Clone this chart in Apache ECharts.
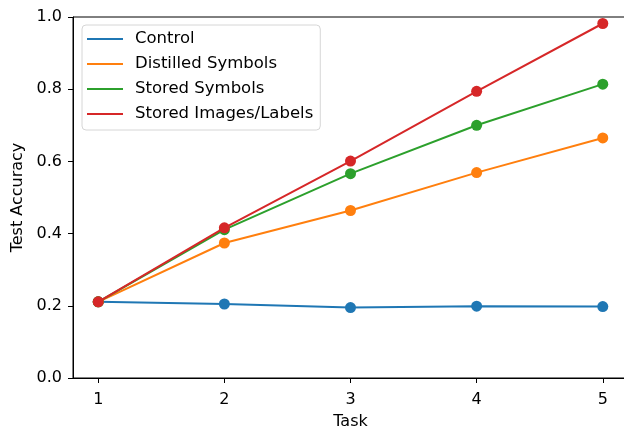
<!DOCTYPE html>
<html>
<head>
<meta charset="utf-8">
<script src="https://cdn.jsdelivr.net/npm/echarts@6/dist/echarts.min.js"></script>
<style>html,body{margin:0;padding:0;background:#fff;}#c{width:624px;height:427px;}</style>
</head>
<body>
<div id="c"></div>
<script>
const tasks = [1, 2, 3, 4, 5];
const control = [0.211, 0.205, 0.195, 0.199, 0.198];
const distilled = [0.211, 0.374, 0.464, 0.569, 0.665];
const storedSymbols = [0.211, 0.411, 0.566, 0.700, 0.814];
const storedImages = [0.211, 0.416, 0.601, 0.794, 0.982];
const yTicks = [0, 0.2, 0.4, 0.6, 0.8, 1.0];
const names = ['Control', 'Distilled Symbols', 'Stored Symbols', 'Stored Images/Labels'];
const colors = ['#1f77b4', '#ff7f0e', '#2ca02c', '#d62728'];
const allData = [control, distilled, storedSymbols, storedImages];

const font = 'DejaVu Sans';
const fs = 16;
const chart = echarts.init(document.getElementById('c'));
chart.setOption({
  animation: false,
  backgroundColor: '#fff',
  grid: { left: 73, top: 17, width: 555, height: 361, containLabel: false, outerBoundsMode: 'none',
          show: true, borderColor: '#000', borderWidth: 1, backgroundColor: 'transparent' },
  legend: {
    left: 82, top: 25, orient: 'vertical',
    icon: 'rect', itemWidth: 36, itemHeight: 2, itemGap: 7,
    padding: [5, 7, 7, 5],
    backgroundColor: 'rgba(255,255,255,0.8)', borderColor: '#d6d6d6', borderWidth: 1, borderRadius: 4,
    textStyle: { fontFamily: font, fontSize: 16.5, color: '#000', lineHeight: 18, padding: [0, 0, 0, 7] },
    data: names
  },
  xAxis: {
    type: 'value', min: 0.8, max: 5.2,
    name: 'Task', nameLocation: 'middle', nameGap: 36,
    nameTextStyle: { fontFamily: font, fontSize: fs, color: '#000' },
    axisLine: { show: true, onZero: false, lineStyle: { color: '#000', width: 1 } },
    axisTick: { show: true, length: 5, lineStyle: { color: '#000' }, customValues: tasks },
    axisLabel: { fontFamily: font, fontSize: fs, color: '#000', margin: 14, customValues: tasks, formatter: v => String(v) },
    splitLine: { show: false }
  },
  yAxis: {
    type: 'value', min: 0, max: 1, interval: 0.2,
    name: 'Test Accuracy', nameLocation: 'middle', nameGap: 43,
    nameTextStyle: { fontFamily: font, fontSize: fs, color: '#000' },
    axisLine: { show: true, lineStyle: { color: '#000', width: 1 } },
    axisTick: { show: true, length: 5, lineStyle: { color: '#000' }, customValues: yTicks },
    axisLabel: { fontFamily: font, fontSize: fs, color: '#000', margin: 11, customValues: yTicks, formatter: v => v.toFixed(1) },
    splitLine: { show: false }
  },
  series: allData.map((d, i) => ({
    name: names[i], type: 'line',
    data: d.map((v, j) => [tasks[j], v]),
    symbol: 'circle', symbolSize: 11, showSymbol: true,
    lineStyle: { color: colors[i], width: 2 },
    itemStyle: { color: colors[i] },
    z: 2 + i
  }))
});
</script>
</body>
</html>
